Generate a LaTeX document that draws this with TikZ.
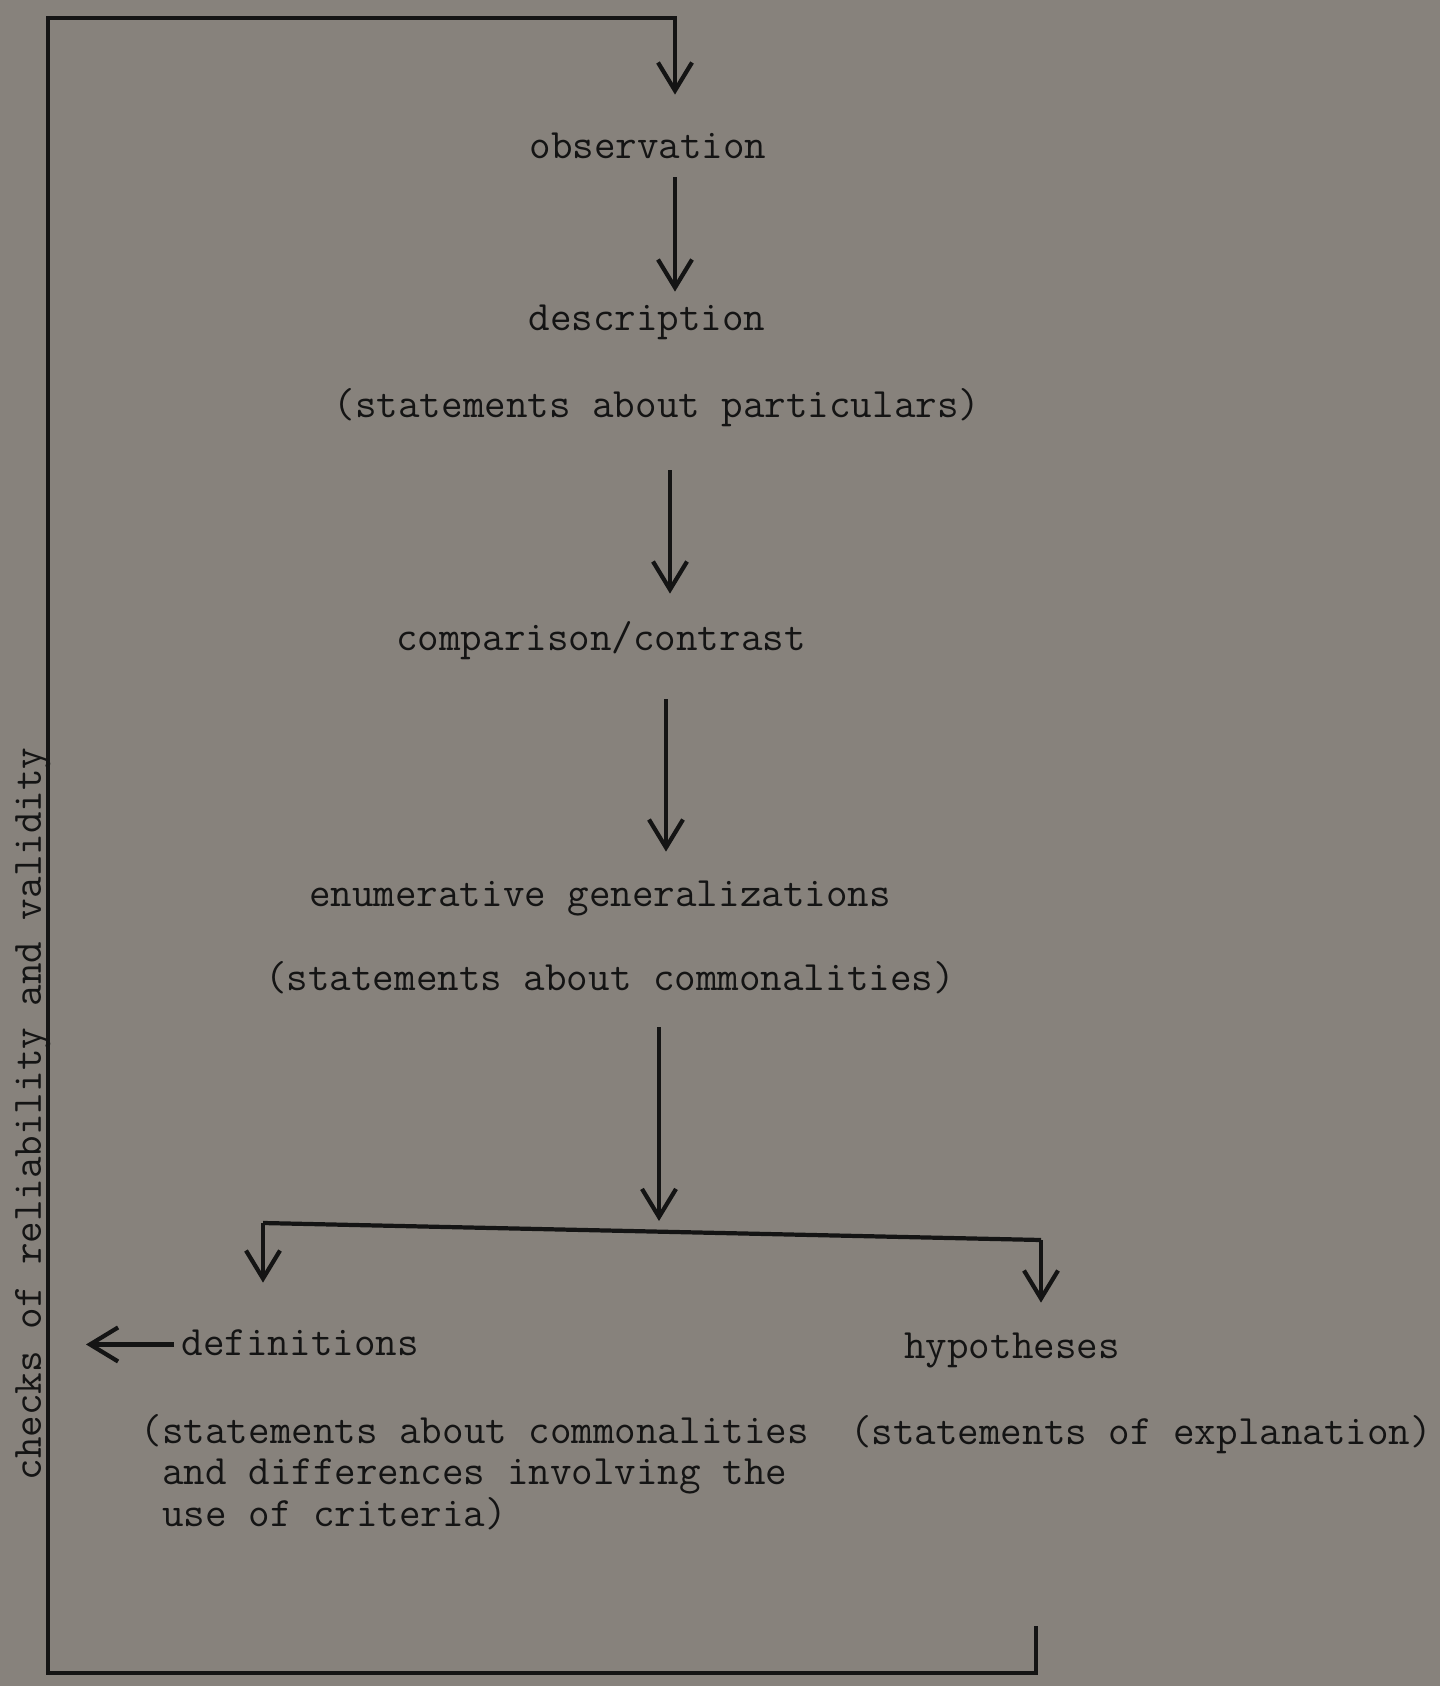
\documentclass[tikz,border=0pt]{standalone}
\usepackage{tikz}
\usetikzlibrary{arrows.meta}

\definecolor{paper}{RGB}{135,130,124}
\definecolor{ink}{RGB}{20,20,20}

\tikzset{
  lbl/.style={font=\ttfamily\fontsize{11.9}{12.2}\selectfont, text=ink,
    inner sep=2pt, text height=9pt, text depth=3pt, anchor=base},
  para/.style={font=\ttfamily\fontsize{11.9}{11.7}\selectfont, text=ink,
    inner sep=2pt, align=left, anchor=north west},
  wire/.style={draw=ink, line width=1.2pt},
  arr/.style={wire, -{Straight Barb[length=2.8mm,width=3.4mm]}}
}

\begin{document}
\begin{tikzpicture}[x=0.01cm, y=-0.01cm]
   \useasboundingbox (0,0) rectangle (1440,1686);
   \fill[paper] (0,0) rectangle (1440,1686);

   \node[lbl] (obs) at (648,159) {observation};
   \node[lbl] (desc) at (647,331) {description};
   \node[lbl] (part) at (657,418) {(statements about particulars)};
   \node[lbl] (comp) at (601,651) {comparison/contrast};
   \node[lbl] (enum) at (600,906) {enumerative generalizations};
   \node[lbl] (comm) at (610,990) {(statements about commonalities)};
   \node[lbl, anchor=base west] (defn) at (174,1355) {definitions};
   \node[lbl] (hyp) at (1012,1358) {hypotheses};
   \node[para] (defx) at (133,1407) {(statements about commonalities\\\ and differences involving the\\\ use of criteria)};
   \node[lbl] (expl) at (1141,1444) {(statements of explanation)};
   \node[lbl, rotate=90] (checks) at (41,1114) {checks of reliability and validity};

   \coordinate (hypout) at (1036,1626);
   \coordinate (brL) at (263,1223);
   \coordinate (brR) at (1041,1240);
   \coordinate (brtop) at (659,1221);

   % loop back up to observation
   \draw[arr, shorten >=0.25cm] (hypout) -- (1036,1673) -- (48,1673) -- (48,18)
     -- (675,18) -- (obs.north -| 675,0);

   \draw[arr] (obs.south -| 675,0) -- (desc.north -| 675,0);
   \draw[arr, shorten <=0.34cm, shorten >=0.18cm] (part.south -| 670,0) -- (comp.north -| 670,0);
   \draw[arr, shorten <=0.3cm, shorten >=0.15cm] (comp.south -| 666,0) -- (enum.north -| 666,0);
   \draw[arr, shorten <=0.19cm] (comm.south -| 659,0) -- (brtop);

   \draw[wire] (brL) -- (brR);
   \draw[arr, shorten >=0.33cm] (brL) -- (brL |- defn.north);
   \draw[arr, shorten >=0.16cm] (brR) -- (brR |- hyp.north);
   \draw[arr] (defn.west) -- (defn.west -| 86,0);
\end{tikzpicture}
\end{document}
